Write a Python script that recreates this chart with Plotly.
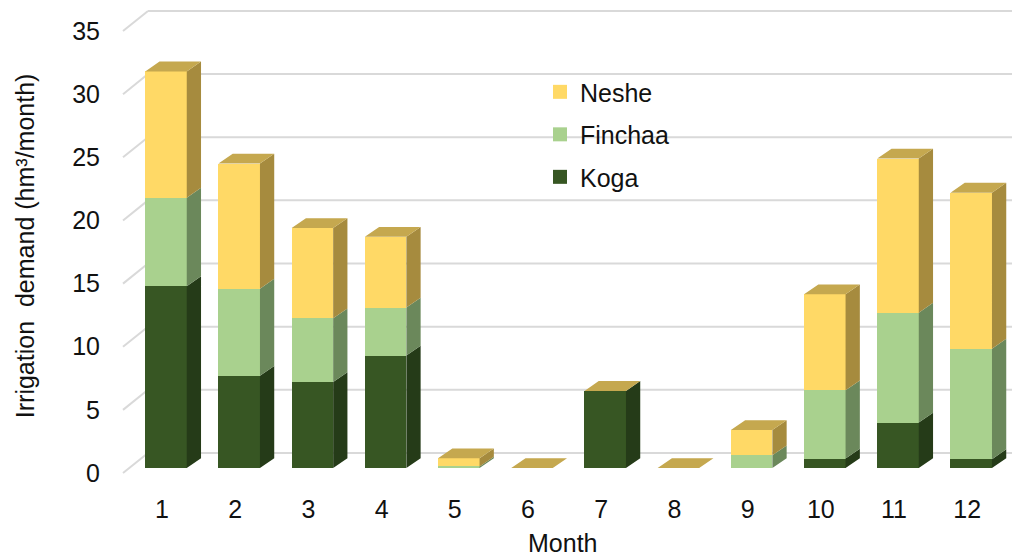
import plotly.graph_objects as go

# ---- data -------------------------------------------------------------
months = list(range(1, 13))
month_labels = [str(m) for m in months]

koga = [14.4, 7.3, 6.8, 8.9, 0.0, 0.0, 6.1, 0.0, 0.0, 0.75, 3.6, 0.7]
finchaa = [7.0, 6.9, 5.05, 3.8, 0.12, 0.0, 0.0, 0.0, 1.0, 5.4, 8.7, 8.75]
neshe = [10.0, 9.9, 7.15, 5.6, 0.65, 0.0, 0.0, 0.0, 2.0, 7.6, 12.2, 12.35]

y_ticks = [0, 5, 10, 15, 20, 25, 30, 35]

# ---- styling ----------------------------------------------------------
FONT = "Liberation Sans, Arial, sans-serif"
FONT_SIZE = 25
TEXT_COLOR = "#111111"
GRID_COLOR = "#D9D9D9"

# (name, values, front colour, side colour)
series = [
    ("Koga", koga, "#375623", "#253B18"),
    ("Finchaa", finchaa, "#A9D18E", "#6B885B"),
    ("Neshe", neshe, "#FFD966", "#A68B3E"),
]
TOP_COLOR = "#C5A84F"

# oblique 3-D projection, expressed in axis units
BAR_W = 0.567        # width of a column's front face
DEPTH_X = 0.195      # horizontal depth offset of a column
DEPTH_Y = 0.78       # vertical depth offset of a column
WALL_FRONT_X, WALL_FRONT_DY = 0.413, -0.40   # front edge of the side wall
WALL_BACK_X, WALL_BACK_DY = 0.754, 1.19      # back wall plane

X_RANGE = [0.235, 12.557]
Y_RANGE = [-1.742, 37.055]

fig = go.Figure()

# front faces: ordinary stacked bars
for name, vals, front, side in series:
    fig.add_trace(go.Bar(
        x=months, y=vals, name=name, width=BAR_W,
        marker=dict(color=front, line=dict(width=0)),
        showlegend=False, hoverinfo="skip",
    ))

# right-hand side faces of every stacked segment
base = [0.0] * len(months)
for name, vals, front, side in series:
    xs, ys = [], []
    for i, m in enumerate(months):
        y0, y1 = base[i], base[i] + vals[i]
        if vals[i] > 0:
            xr = m + BAR_W / 2
            xs += [xr, xr + DEPTH_X, xr + DEPTH_X, xr, xr, None]
            ys += [y0, y0 + DEPTH_Y, y1 + DEPTH_Y, y1, y0, None]
        base[i] = y1
    fig.add_trace(go.Scatter(
        x=xs, y=ys, mode="lines", fill="toself", fillcolor=side,
        line=dict(width=0), showlegend=False, hoverinfo="skip",
    ))

# top faces of each column
totals = base
xs, ys = [], []
for m, t in zip(months, totals):
    xl, xr = m - BAR_W / 2, m + BAR_W / 2
    xs += [xl, xr, xr + DEPTH_X, xl + DEPTH_X, xl, None]
    ys += [t, t, t + DEPTH_Y, t + DEPTH_Y, t, None]
fig.add_trace(go.Scatter(
    x=xs, y=ys, mode="lines", fill="toself", fillcolor=TOP_COLOR,
    line=dict(width=0), showlegend=False, hoverinfo="skip",
))

# legend entries (top to bottom: Neshe, Finchaa, Koga)
for name, vals, front, side in reversed(series):
    fig.add_trace(go.Scatter(
        x=[None], y=[None], mode="markers", name=name, legendgroup=name,
        marker=dict(symbol="square", size=14, color=front),
    ))

# gridlines on the side wall and the back wall
shapes = []
for v in y_ticks:
    shapes.append(dict(
        type="line", xref="x", yref="y", layer="below",
        x0=WALL_FRONT_X, y0=v + WALL_FRONT_DY, x1=WALL_BACK_X, y1=v + WALL_BACK_DY,
        line=dict(color=GRID_COLOR, width=2),
    ))
    shapes.append(dict(
        type="line", xref="x", yref="y", layer="below",
        x0=WALL_BACK_X, y0=v + WALL_BACK_DY, x1=X_RANGE[1], y1=v + WALL_BACK_DY,
        line=dict(color=GRID_COLOR, width=2),
    ))

fig.update_layout(
    width=1012, height=556,
    margin=dict(l=110, r=0, t=0, b=66),
    barmode="stack",
    plot_bgcolor="white", paper_bgcolor="white",
    font=dict(family=FONT, size=FONT_SIZE, color=TEXT_COLOR),
    shapes=shapes,
    showlegend=True,
    legend=dict(
        x=0.4767, y=0.859, xanchor="left", yanchor="top",
        traceorder="grouped", tracegroupgap=7,
        font=dict(size=FONT_SIZE), bgcolor="rgba(0,0,0,0)",
    ),
    annotations=[
        dict(text="Irrigation\u00a0\u00a0demand (hm³/month)", textangle=-90,
             xref="paper", yref="paper", x=-0.094, y=0.498,
             xanchor="center", yanchor="middle", showarrow=False,
             font=dict(size=FONT_SIZE)),
        dict(text="Month", xref="paper", yref="paper",
             x=0.502, y=-0.108, xanchor="center", yanchor="middle",
             showarrow=False, font=dict(size=FONT_SIZE)),
    ],
)

fig.update_xaxes(
    range=X_RANGE, tickmode="array", tickvals=months, ticktext=month_labels,
    showgrid=False, zeroline=False, showline=False, ticks="",
    ticklabelshift=-4, ticklabelstandoff=2,
)
fig.update_yaxes(
    range=Y_RANGE, tickmode="array", tickvals=y_ticks,
    showgrid=False, zeroline=False, showline=False, ticks="",
    ticklabelshift=5, ticklabelstandoff=9,
)

fig.write_html("out.html")
